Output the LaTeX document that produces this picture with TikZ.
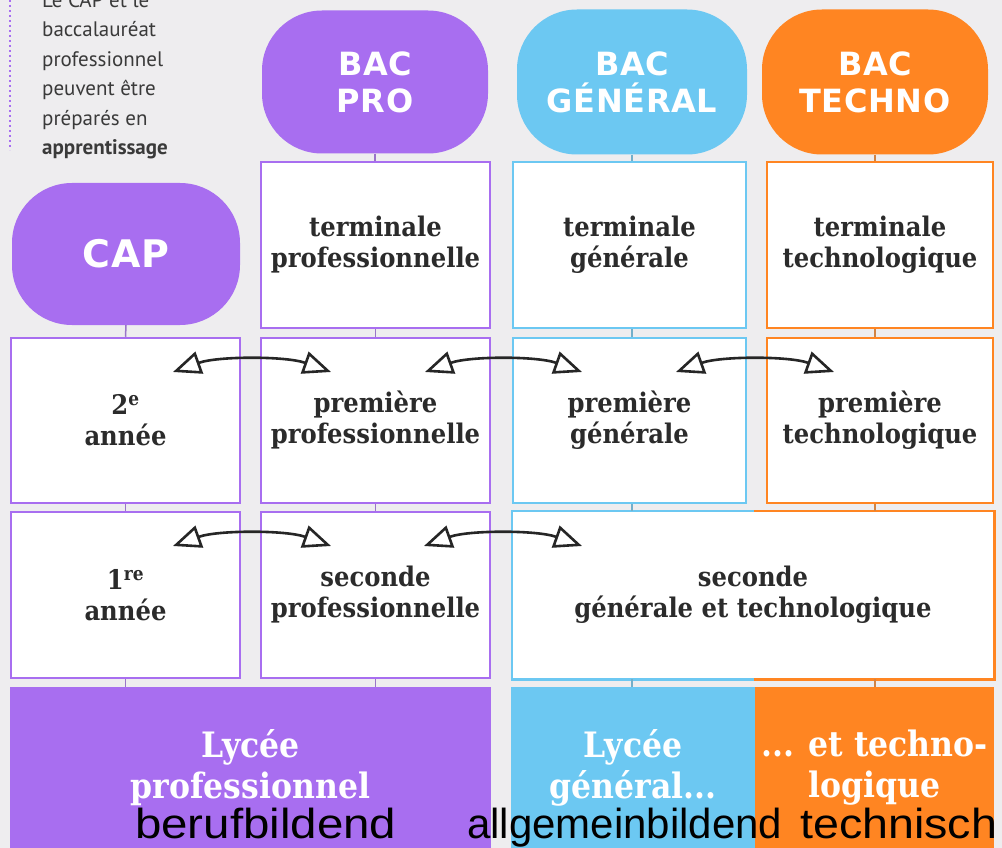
\documentclass[tikz,border=0pt]{standalone}
\usepackage{fontspec}
\usepackage{graphicx}
\usetikzlibrary{arrows.meta,calc}
\newfontfamily\slab[FakeStretch=0.9]{DejaVu Serif}
\newfontfamily\pillf[LetterSpace=2]{DejaVu Sans}
\newfontfamily\notef{PT Sans}
\newfontfamily\lab{Liberation Sans}
\definecolor{pur}{HTML}{A86EF0}
\definecolor{blu}{HTML}{6CC8F2}
\definecolor{ora}{HTML}{FF8522}
\definecolor{bgc}{HTML}{EEEDEF}
\definecolor{txt}{HTML}{2B2B2B}
\definecolor{notec}{HTML}{3A3A3A}
\begin{document}
\begin{tikzpicture}[x=1pt,y=-1pt,
  box/.style={draw, line width=2.5pt, fill=white, minimum height=166pt, inner sep=0pt,
    font=\slab\bfseries\fontsize{27}{31}\selectfont, text=txt, align=center},
  pill/.style={rounded corners=60pt, inner sep=0pt, text=white, align=center,
    font=\pillf\bfseries\fontsize{32}{37}\selectfont},
  band/.style={inner sep=0pt, minimum height=161pt, text=white, align=center,
    font=\slab\bfseries\fontsize{35}{41}\selectfont},
  conn/.style={draw=#1!65!gray, line width=1.5pt},
  dbl/.style={{Triangle[open,length=28pt,width=23pt]}-{Triangle[open,length=28pt,width=23pt]},
    line width=2.6pt, draw=black!85},
  de/.style={anchor=base west, inner sep=0pt, text=black, font=\lab\fontsize{42}{42}\selectfont}]
\useasboundingbox (0,0) rectangle (1002,848);
\fill[bgc] (0,0) rectangle (1002,848);

% note
\begin{scope}
\clip (0,0) rectangle (1002,848);
\coordinate (dtop) at (10,0);
\coordinate (dbot) at (10,150);
\draw[pur, line width=2pt, dash pattern=on 2pt off 3pt] (dtop) -- (dbot);
\node[anchor=north west, inner sep=0pt, align=left, text=notec,
  font=\notef\fontsize{21}{29.5}\selectfont] (note) at (42,-8)
  {Le CAP et le\\baccalauréat\\professionnel\\peuvent être\\préparés en\\\textbf{apprentissage}};
\end{scope}

% pills
\node[pill, fill=pur, minimum width=228pt, minimum height=142pt,
  font=\pillf\bfseries\fontsize{38}{40}\selectfont] (cap) at (126,254) {CAP};
\node[pill, fill=pur, minimum width=226pt, minimum height=143pt] (bpro) at (375,82) {BAC\\PRO};
\node[pill, fill=blu, minimum width=230pt, minimum height=145pt] (bgen) at (632,82) {BAC\\GÉNÉRAL};
\node[pill, fill=ora, minimum width=226pt, minimum height=145pt] (btech) at (875,82) {BAC\\TECHNO};

% row terminale
\node[box, draw=pur, minimum width=229pt] (tp) at (375.5,245) {terminale\\professionnelle};
\node[box, draw=blu, minimum width=233pt] (tg) at (629.5,245) {terminale\\générale};
\node[box, draw=ora, minimum width=226pt] (tt) at (880,245) {terminale\\technologique};

% row premiere
\node[box, draw=pur, minimum width=229pt, minimum height=165pt] (a2) at (125.5,420.5) {2\textsuperscript{e}\\année};
\node[box, draw=pur, minimum width=229pt, minimum height=165pt] (pp) at (375.5,420.5) {première\\professionnelle};
\node[box, draw=blu, minimum width=233pt, minimum height=165pt] (pg) at (629.5,420.5) {première\\générale};
\node[box, draw=ora, minimum width=226pt, minimum height=165pt] (pt) at (880,420.5) {première\\technologique};

% row seconde
\node[box, draw=pur, minimum width=229pt] (a1) at (125.5,595) {1\textsuperscript{re}\\année};
\node[box, draw=pur, minimum width=229pt] (sp) at (375.5,595) {seconde\\professionnelle};
\node[box, draw=none, minimum width=480pt] (sgt) at (753,595) {seconde\\générale et technologique};
\coordinate (mT) at ($(sgt.north west)+(242,0)$);
\coordinate (mB) at ($(sgt.south west)+(242,0)$);
\draw[line width=2.5pt, blu] (mT) -- (sgt.north west) -- (sgt.south west) -- (mB);
\draw[line width=2.5pt, ora] (mT) -- (sgt.north east) -- (sgt.south east) -- (mB);

% bands
\node[band, fill=pur, minimum width=481pt] (lp) at (250.5,767.5) {Lycée\\professionnel};
\node[band, fill=blu, minimum width=244pt] (lg) at (633,767.5) {Lycée\\général...};
\node[band, fill=ora, minimum width=239pt] (lt) at (874.5,767.5) {... et techno-\\logique};

% connectors
\draw[conn=pur] (cap.south) -- (a2.north);
\draw[conn=pur] (a2.south) -- (a1.north);
\draw[conn=pur] (a1.south) -- (lp.north -| a1.south);
\draw[conn=pur] (bpro.south) -- (tp.north -| bpro.south);
\draw[conn=pur] (tp.south) -- (pp.north);
\draw[conn=pur] (pp.south) -- (sp.north);
\draw[conn=pur] (sp.south) -- (lp.north -| sp.south);
\draw[conn=blu] (bgen.south) -- (tg.north -| bgen.south);
\draw[conn=blu] (tg.south -| bgen.south) -- (pg.north -| bgen.south);
\draw[conn=blu] (pg.south -| bgen.south) -- (sgt.north -| bgen.south);
\draw[conn=blu] (sgt.south -| bgen.south) -- (lg.north -| bgen.south);
\draw[conn=ora] (btech.south) -- (tt.north -| btech.south);
\draw[conn=ora] (tt.south -| btech.south) -- (pt.north -| btech.south);
\draw[conn=ora] (pt.south -| btech.south) -- (sgt.north -| btech.south);
\draw[conn=ora] (sgt.south -| btech.south) -- (lt.north -| btech.south);

% arrows
\coordinate (p1a) at (173,372); \coordinate (p1b) at (331,372);
\coordinate (p2a) at (425,372); \coordinate (p2b) at (582,372);
\coordinate (p3a) at (676,372); \coordinate (p3b) at (834,372);
\coordinate (s1a) at (173,546); \coordinate (s1b) at (331,546);
\coordinate (s2a) at (424,546); \coordinate (s2b) at (582,546);
\foreach \a/\b in {p1a/p1b,p2a/p2b,p3a/p3b,s1a/s1b,s2a/s2b}
  \draw[dbl] (\a) .. controls +(45,-16) and +(-45,-16) .. (\b);

% German labels
\node[de] (deP) at (135,838) {\scalebox{1.13}[1]{berufbildend}};
\node[de] (deG) at (467,838) {allgemeinbildend};
\node[de] (deT) at (800,838) {\scalebox{1.11}[1]{technisch}};
\end{tikzpicture}
\end{document}
